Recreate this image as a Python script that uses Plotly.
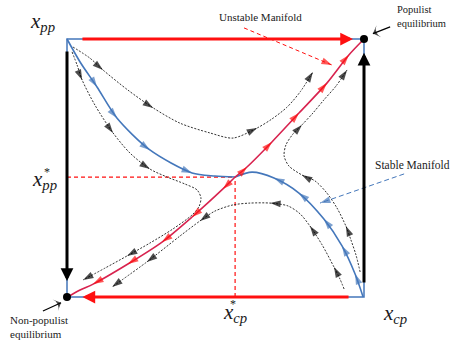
import plotly.graph_objects as go

# ---------------- data (unit square: x = x_cp share, y = x_pp share) ----------------
X_STAR, Y_STAR = 0.566, 0.465          # interior saddle equilibrium
EQ_X = [0.0, 1.0]                       # corner equilibria (non-populist, populist)
EQ_Y = [0.0, 1.0]

# unstable manifold (flows away from the saddle)
UNST_UP_X = [0.566, 0.606, 0.690, 0.781, 0.875, 0.949, 1.000]
UNST_UP_Y = [0.465, 0.504, 0.601, 0.713, 0.829, 0.938, 1.000]
UNST_DN_X = [0.566, 0.525, 0.421, 0.320, 0.205, 0.088, 0.044, 0.003]
UNST_DN_Y = [0.465, 0.419, 0.310, 0.213, 0.128, 0.050, 0.027, 0.000]
UNST_ARROWS = [1, 2, 3, 4, 5]

# stable manifold (flows into the saddle)
STAB_UL_X = [0.000, 0.044, 0.101, 0.168, 0.279, 0.421, 0.498, 0.566]
STAB_UL_Y = [1.000, 0.911, 0.814, 0.694, 0.570, 0.481, 0.469, 0.465]
STAB_UL_ARROWS = [2, 3, 4, 5]
STAB_LR_X = [0.997, 0.970, 0.926, 0.865, 0.781, 0.697, 0.623, 0.566]
STAB_LR_Y = [0.000, 0.089, 0.198, 0.302, 0.403, 0.461, 0.484, 0.465]
STAB_LR_ARROWS = [1, 2, 3, 4, 5]

# other trajectories (dotted)
TRAJ_TOP_X = [0.020, 0.077, 0.121, 0.205, 0.290, 0.380, 0.481, 0.559, 0.640, 0.690, 0.741, 0.785, 0.828]
TRAJ_TOP_Y = [0.969, 0.926, 0.880, 0.802, 0.733, 0.674, 0.636, 0.616, 0.655, 0.690, 0.736, 0.795, 0.872]
TRAJ_TOP_ARROWS = [2, 4, 8, 12]

TRAJ_LEFT_X = [0.017, 0.034, 0.051, 0.094, 0.155, 0.212, 0.279, 0.337, 0.397, 0.438, 0.451, 0.444,
               0.421, 0.357, 0.279, 0.202, 0.128, 0.054]
TRAJ_LEFT_Y = [0.950, 0.899, 0.841, 0.744, 0.636, 0.558, 0.496, 0.465, 0.438, 0.415, 0.384, 0.349,
               0.318, 0.264, 0.209, 0.159, 0.112, 0.066]
TRAJ_LEFT_ARROWS = [2, 4, 6, 15, 17]

TRAJ_RIGHT_X = [0.987, 0.973, 0.956, 0.939, 0.909, 0.875, 0.835, 0.791, 0.747, 0.731, 0.737, 0.761,
                0.791, 0.828, 0.865, 0.906, 0.943]
TRAJ_RIGHT_Y = [0.097, 0.163, 0.221, 0.275, 0.345, 0.403, 0.450, 0.473, 0.508, 0.547, 0.589, 0.632,
                0.667, 0.713, 0.764, 0.818, 0.880]
TRAJ_RIGHT_ARROWS = [3, 7, 12, 16]

TRAJ_BOT_X = [0.933, 0.919, 0.899, 0.859, 0.818, 0.785, 0.744, 0.684, 0.616, 0.559, 0.498, 0.448,
              0.380, 0.269, 0.152]
TRAJ_BOT_Y = [0.031, 0.070, 0.116, 0.202, 0.275, 0.322, 0.353, 0.364, 0.364, 0.357, 0.333, 0.295,
              0.236, 0.136, 0.039]
TRAJ_BOT_ARROWS = [2, 4, 7, 11, 13, 14]

# ---------------- styling ----------------
RED_LINE = "#d8234f"
RED = "#ff1010"
BLUE = "#4477bb"
DOT = "#333333"
SERIF = "Liberation Serif"

fig = go.Figure()


def arrows(xs, ys, idxs, color, size, symbol="arrow"):
    ax, ay, sz = [], [], []
    for i in idxs:
        j0, j1 = max(i - 1, 0), min(i + 1, len(xs) - 1)
        dx, dy = xs[j1] - xs[j0], ys[j1] - ys[j0]
        n = (dx * dx + dy * dy) ** 0.5
        ax += [xs[i] - 0.004 * dx / n, xs[i]]
        ay += [ys[i] - 0.004 * dy / n, ys[i]]
        sz += [0, size]
    return go.Scatter(x=ax, y=ay, mode="markers", hoverinfo="skip",
                      marker=dict(symbol=symbol, angleref="previous", size=sz,
                                  color=color, line=dict(width=0)))


def curve(xs, ys, color, width, dash="solid"):
    return go.Scatter(x=xs, y=ys, mode="lines", hoverinfo="skip",
                      line=dict(color=color, width=width, dash=dash, shape="spline", smoothing=0.8))


# equilibrium guide lines
fig.add_trace(go.Scatter(x=[0, X_STAR], y=[Y_STAR, Y_STAR], mode="lines",
                         line=dict(color=RED, width=1.2, dash="4px,3px"), hoverinfo="skip"))
fig.add_trace(go.Scatter(x=[X_STAR, X_STAR], y=[0, Y_STAR], mode="lines",
                         line=dict(color=RED, width=1.2, dash="4px,3px"), hoverinfo="skip"))

# dotted trajectories
for xs, ys, idx in [(TRAJ_TOP_X, TRAJ_TOP_Y, TRAJ_TOP_ARROWS),
                    (TRAJ_LEFT_X, TRAJ_LEFT_Y, TRAJ_LEFT_ARROWS),
                    (TRAJ_RIGHT_X, TRAJ_RIGHT_Y, TRAJ_RIGHT_ARROWS),
                    (TRAJ_BOT_X, TRAJ_BOT_Y, TRAJ_BOT_ARROWS)]:
    fig.add_trace(curve(xs, ys, DOT, 1, "2px,1.5px"))
    fig.add_trace(arrows(xs, ys, idx, "black", 11))

# stable manifold
for xs, ys, idx in [(STAB_UL_X, STAB_UL_Y, STAB_UL_ARROWS), (STAB_LR_X, STAB_LR_Y, STAB_LR_ARROWS)]:
    fig.add_trace(curve(xs, ys, BLUE, 1.6))
    fig.add_trace(arrows(xs, ys, idx, BLUE, 11))

# unstable manifold
for xs, ys in [(UNST_UP_X, UNST_UP_Y), (UNST_DN_X, UNST_DN_Y)]:
    fig.add_trace(curve(xs, ys, RED_LINE, 1.6))
    fig.add_trace(arrows(xs, ys, UNST_ARROWS, RED, 11))

# pointers for the manifold labels (dashed with arrow tip)
fig.add_trace(go.Scatter(x=[0.596, 0.892], y=[1.043, 0.899], mode="lines",
                         line=dict(color=RED, width=1, dash="4px,3px"), hoverinfo="skip"))
fig.add_trace(arrows([0.596, 0.892], [1.043, 0.899], [1], RED, 11))
fig.add_trace(go.Scatter(x=[1.135, 0.852], y=[0.477, 0.364], mode="lines",
                         line=dict(color=BLUE, width=1, dash="5px,3px"), hoverinfo="skip"))
fig.add_trace(arrows([1.135, 0.852], [0.477, 0.364], [1], BLUE, 11))

# black pointers for the corner labels
for px, py in [([1.088, 1.030], [1.047, 1.021]), ([-0.081, -0.020], [-0.054, -0.022])]:
    fig.add_trace(go.Scatter(x=px, y=py, mode="lines", line=dict(color="black", width=1.2),
                             hoverinfo="skip"))
    fig.add_trace(arrows(px, py, [1], "black", 9, "arrow-wide"))

# equilibrium dots
fig.add_trace(go.Scatter(x=EQ_X, y=EQ_Y, mode="markers", hoverinfo="skip",
                         marker=dict(color="black", size=8)))

# blue frame
fig.add_shape(type="rect", x0=0, y0=0, x1=1, y1=1, line=dict(color=BLUE, width=1.5), layer="below")

# thick boundary flows
def edge(x0, y0, x1, y1, color):
    fig.add_annotation(x=x1, y=y1, ax=x0, ay=y0, xref="x", yref="y", axref="x", ayref="y",
                       text="", showarrow=True, arrowhead=2, arrowsize=0.85, arrowwidth=3,
                       arrowcolor=color, standoff=0, startstandoff=0)

edge(0.047, 1.0, 0.963, 1.0, RED)
edge(0.953, 0.0, 0.052, 0.0, RED)
edge(0.0, 0.957, 0.0, 0.062, "black")
edge(1.0, 0.050, 1.0, 0.947, "black")


def label(x, y, txt, size, xanchor="center", align="center"):
    fig.add_annotation(x=x, y=y, xref="x", yref="y", text=txt, showarrow=False,
                       xanchor=xanchor, yanchor="middle", align=align,
                       font=dict(family=SERIF, size=size, color="#1a1a1a"))

label(0.650, 1.085, "Unstable Manifold", 11)
label(1.105, 1.087, "Populist<br>equilibrium", 10.5, "left", "left")
label(1.030, 0.512, "Stable Manifold", 11.5, "left", "left")
label(-0.198, -0.116, "Non-populist<br>equilibrium", 11, "left", "left")

label(-0.081, 1.066, "<i>x</i><sub><i>pp</i></sub>", 21)
label(-0.077, Y_STAR - 0.012, "<i>x</i><sub><i>pp</i></sub>", 21)
label(-0.066, Y_STAR + 0.020, "*", 12)
label(X_STAR, -0.062, "<i>x</i><sub><i>cp</i></sub>", 21)
label(X_STAR - 0.008, -0.028, "*", 12)
label(1.104, -0.066, "<i>x</i><sub><i>cp</i></sub>", 21)

fig.update_layout(
    width=454, height=342, margin=dict(l=0, r=0, t=0, b=0),
    paper_bgcolor="white", plot_bgcolor="white", showlegend=False,
    xaxis=dict(range=[-67 / 297, 387 / 297], visible=False, fixedrange=True),
    yaxis=dict(range=[-45 / 258, 297 / 258], visible=False, fixedrange=True),
)

fig.write_html("out.html", config={"displayModeBar": False, "staticPlot": True},
               post_script="document.body.style.margin='0px';document.body.style.overflow='hidden';")
